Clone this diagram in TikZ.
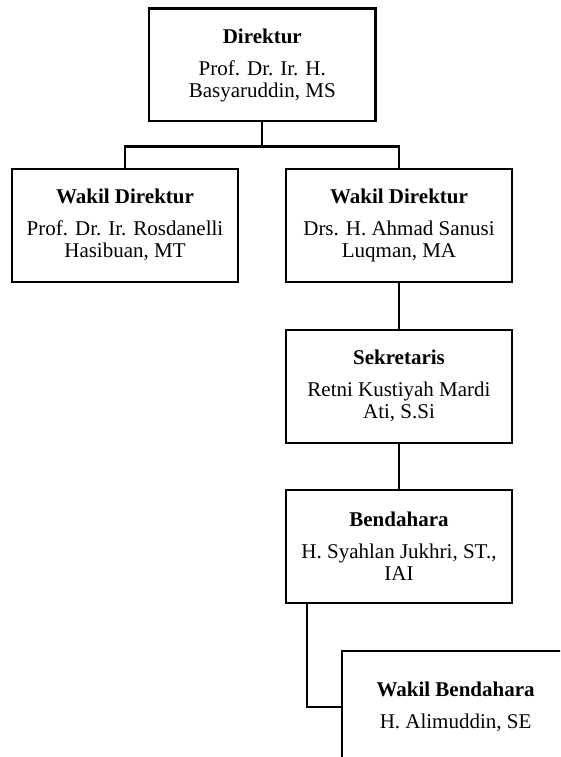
\documentclass[tikz,border=0pt]{standalone}
\usepackage{fontspec}
\setmainfont{Liberation Serif}
\begin{document}
\begin{tikzpicture}[x=1pt,y=-1pt,
  orgbox/.style={draw, line width=2.3pt, minimum width=226.6pt, minimum height=112.7pt,
    inner sep=0pt, align=center, font=\fontsize{21}{22}\selectfont},
  conn/.style={line width=2.3pt}]
\useasboundingbox (0,0) rectangle (560,757);
\clip (0,0) rectangle (560,757);
\node[orgbox] (dir) at (262.3,65) {\textbf{Direktur}\\[10pt]Prof. Dr. Ir. H.\\Basyaruddin, MS};
\node[orgbox] (w1) at (125,225.3) {\textbf{Wakil Direktur}\\[10pt]Prof. Dr. Ir. Rosdanelli\\Hasibuan, MT};
\node[orgbox] (w2) at (399,225.3) {\textbf{Wakil Direktur}\\[10pt]Drs. H. Ahmad Sanusi\\Luqman, MA};
\node[orgbox] (sek) at (399,386.3) {\textbf{Sekretaris}\\[10pt]Retni Kustiyah Mardi\\Ati, S.Si};
\node[orgbox] (ben) at (399,546.3) {\textbf{Bendahara}\\[10pt]H. Syahlan Jukhri, ST.,\\IAI};
\node[orgbox] (wb) at (455.6,707.3) {\textbf{Wakil Bendahara}\\[10pt]H. Alimuddin, SE};
\draw[conn] (dir.south) -- ++(0,24) -| (w1.north);
\draw[conn] (dir.south) -- ++(0,24) -| (w2.north);
\draw[conn] (w2.south) -- (sek.north);
\draw[conn] (sek.south) -- (ben.north);
\draw[conn] ([xshift=22.6pt]ben.south west) |- (wb.west);
\end{tikzpicture}
\end{document}
